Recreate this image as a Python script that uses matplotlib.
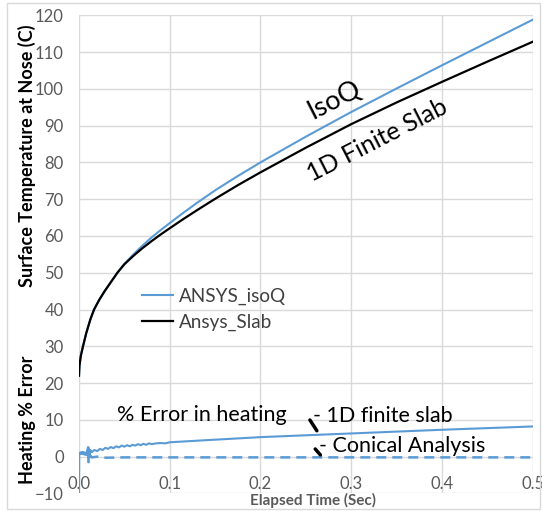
import matplotlib
matplotlib.use("Agg")
import matplotlib.pyplot as plt
from matplotlib.patches import Rectangle

plt.rcParams['font.family'] = ['Lato', 'DejaVu Sans']

# surface temperature at nose (C) vs elapsed time (s)
t_temp = [0, 0.0005, 0.002, 0.0044, 0.008, 0.0125, 0.0166, 0.022, 0.028, 0.035,
          0.0423, 0.05, 0.06, 0.07, 0.08, 0.09, 0.1, 0.115, 0.13, 0.15,
          0.175, 0.2, 0.25, 0.3, 0.35, 0.4, 0.45, 0.5]
ansys_isoq = [22, 24.7, 27.4, 30, 33.6, 37.3, 40, 42.5, 44.9, 47.4,
              50, 52.4, 55.0, 57.4, 59.6, 61.6, 63.5, 66.3, 69.0, 72.4,
              76.3, 80.0, 87.0, 93.7, 100.1, 106.4, 112.6, 118.8]
ansys_slab = [22, 24.7, 27.4, 30, 33.6, 37.3, 40, 42.5, 44.9, 47.4,
              50, 52.3, 54.6, 56.7, 58.6, 60.4, 62.1, 64.6, 67.0, 70.1,
              73.8, 77.3, 84.0, 90.4, 96.3, 101.9, 107.4, 112.8]

# heating % error
t_err = [0, 0.0003, 0.004, 0.008, 0.0100, 0.0105, 0.0110, 0.0115, 0.0125, 0.014,
         0.017, 0.020, 0.023, 0.026, 0.029, 0.032, 0.035, 0.038, 0.041, 0.044,
         0.047, 0.050, 0.053, 0.056, 0.059, 0.062, 0.065, 0.068, 0.071, 0.074,
         0.077, 0.080, 0.085, 0.090, 0.095, 0.100, 0.128, 0.2, 0.3, 0.4, 0.5]
err_slab = [-10, 1.0, 1.3, 0.9, 2.6, -0.4, 2.3, 0.2, 1.8, 1.2,
            1.8, 1.5, 2.1, 1.8, 2.4, 2.1, 2.6, 2.3, 2.8, 2.5,
            3.0, 2.7, 3.1, 2.8, 3.2, 3.0, 3.4, 3.1, 3.5, 3.2,
            3.6, 3.4, 3.6, 3.7, 3.6, 3.9, 4.3, 5.3, 6.3, 7.3, 8.2]
t_con = [0, 0.004, 0.008, 0.0100, 0.0105, 0.0110, 0.0115, 0.0125, 0.014, 0.02,
         0.03, 0.05, 0.1, 0.2, 0.3, 0.4, 0.5]
err_con = [0.8, 0.8, 0.5, 1.9, -1.5, 1.3, -1.0, 0.3, -0.2, 0.0,
           -0.3, -0.2, -0.2, -0.2, -0.2, -0.2, -0.2]

xticks = [0.0, 0.1, 0.2, 0.3, 0.4, 0.5]
yticks = list(range(-10, 121, 10))

blue = '#5b9bd5'
grid = '#d9d9d9'
gray = '#595959'

fig = plt.figure(figsize=(5.42, 5.11), dpi=100)
ax = fig.add_axes([79 / 542, 1 - 493.4 / 511, 453.7 / 542, 478.1 / 511])

ax.plot(t_temp, ansys_isoq, color=blue, lw=1.5, label='ANSYS_isoQ')
ax.plot(t_temp, ansys_slab, color='black', lw=1.6, label='Ansys_Slab')
ax.plot(t_err, err_slab, color=blue, lw=1.5)
ax.plot(t_con, err_con, color=blue, lw=1.8, dashes=(4, 2.4))

ax.set_xlim(0, 0.5)
ax.set_ylim(-10, 120)
ax.set_xticks(xticks)
ax.set_xticklabels(['%.1f' % v for v in xticks])
ax.set_yticks(yticks)
ax.grid(True, color=grid, lw=1)
ax.set_axisbelow(True)
for s in ['top', 'right', 'left']:
    ax.spines[s].set_visible(False)
ax.spines['bottom'].set_position(('data', 0))
ax.spines['bottom'].set_visible(False)
ax.tick_params(axis='both', length=0, labelsize=12, labelcolor=gray)
ax.tick_params(axis='x', pad=14)
ax.tick_params(axis='y', pad=11)

leg = ax.legend(loc='center left', bbox_to_anchor=((142 - 79) / 453.7, (493.4 - 309) / 478.1),
                frameon=False, fontsize=13.6, handlelength=1.65, handletextpad=0.3,
                labelspacing=0.45, borderpad=0, borderaxespad=0)
for txt in leg.get_texts():
    txt.set_color('#404040')

ax.text(0.281, 97.0, 'IsoQ', rotation=27, fontsize=19.5, ha='center', va='center')
ax.text(0.3284, 86.0, '1D Finite Slab', rotation=27, fontsize=18, ha='center', va='center')

ax.text(0.042, 11.3, '% Error in heating', fontsize=15.5, va='center')
ax.annotate('', xy=(0.2638, 6.4), xytext=(0.2528, 10.6),
            arrowprops=dict(arrowstyle='-', color='black', lw=2.5))
ax.text(0.258, 11.0, '- 1D finite slab', fontsize=15.5, va='center')
ax.annotate('', xy=(0.268, -0.1), xytext=(0.2583, 2.65),
            arrowprops=dict(arrowstyle='-', color='black', lw=2.5))
ax.text(0.265, 2.8, '- Conical Analysis', fontsize=15.5, va='center')

fig.text(27 / 542, 1 - 156 / 511, 'Surface Temperature at Nose (C)', rotation=90,
         fontsize=13, fontweight='bold', ha='center', va='center')
fig.text(27 / 542, 1 - 420 / 511, 'Heating % Error', rotation=90,
         fontsize=13, fontweight='bold', ha='center', va='center')
fig.text(313 / 542, 1 - 500 / 511, 'Elapsed Time (Sec)', fontsize=11,
         fontweight='bold', color=gray, ha='center', va='center')

fig.add_artist(Rectangle((7 / 542, 2 / 511), 533 / 542, 506 / 511, transform=fig.transFigure,
                         fill=False, ec=grid, lw=1))

fig.savefig('out.png', dpi=100)
